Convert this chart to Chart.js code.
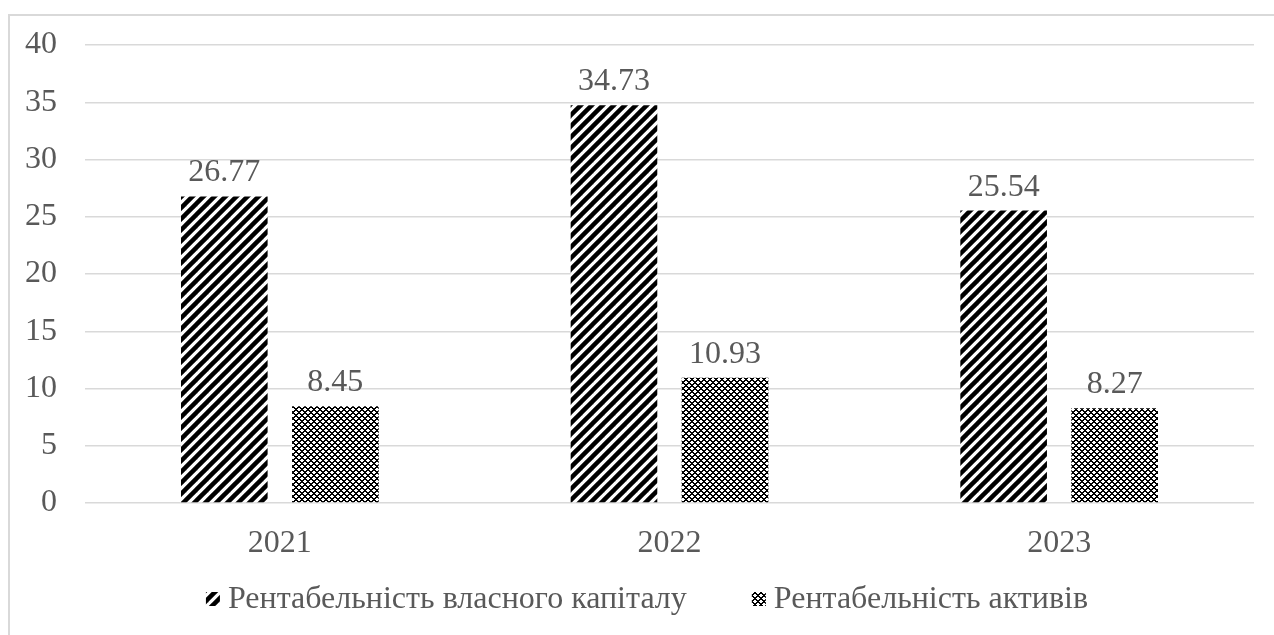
<!DOCTYPE html>
<html>
<head>
<meta charset="utf-8">
<script src="https://cdn.jsdelivr.net/npm/chart.js@4"></script>
<style>
  html, body { margin: 0; padding: 0; overflow: hidden; background: #fff; }
  #frame {
    position: absolute; left: 8px; top: 14px;
    width: 1274px; height: 635px;
    border-left: 2px solid #d9d9d9; border-top: 2px solid #d9d9d9;
  }
  #chart1 { display: block; }
</style>
</head>
<body>
<div id="frame"><canvas id="chart1" width="1274" height="635"></canvas></div>
<script>
const years = ['2021', '2022', '2023'];
const equityReturn = [26.77, 34.73, 25.54];
const assetReturn = [8.45, 10.93, 8.27];
const seriesNames = ['Рентабельність власного капіталу', 'Рентабельність активів'];
const yMin = 0, yMax = 40, yStep = 5;

const fontFamily = "'Liberation Serif', 'Times New Roman', serif";
const textColor = '#595959';

// hatch fills like the excel chart
function stripes() {
  const c = document.createElement('canvas');
  c.width = 11; c.height = 11;
  const g = c.getContext('2d');
  g.fillStyle = '#fff';
  g.fillRect(0, 0, 11, 11);
  g.strokeStyle = '#000';
  g.lineWidth = 4.5;
  for (const o of [-11, 0, 11]) {
    g.beginPath();
    g.moveTo(o - 2, 13);
    g.lineTo(o + 13, -2);
    g.stroke();
  }
  return g.createPattern(c, 'repeat');
}

function checks() {
  const c = document.createElement('canvas');
  c.width = 6; c.height = 6;
  const g = c.getContext('2d');
  g.fillStyle = '#fff';
  g.fillRect(0, 0, 6, 6);
  g.fillStyle = '#000';
  for (let x = 0; x < 6; x++) {
    for (let y = 0; y < 6; y++) {
      if ((x + y) % 6 < 2 || (x - y + 6) % 6 < 2) g.fillRect(x, y, 1, 1);
    }
  }
  return g.createPattern(c, 'repeat');
}

const ctx0 = document.getElementById('chart1').getContext('2d');
const fillA = stripes();
const fillB = checks();

const valueLabels = {
  id: 'valueLabels',
  afterDatasetsDraw(chart) {
    const ctx = chart.ctx;
    ctx.save();
    ctx.font = '32px ' + fontFamily;
    ctx.fillStyle = textColor;
    ctx.textAlign = 'center';
    ctx.textBaseline = 'alphabetic';
    chart.data.datasets.forEach((ds, i) => {
      chart.getDatasetMeta(i).data.forEach((bar, j) => {
        ctx.fillText(ds.data[j].toFixed(2), bar.x, bar.y - 15);
      });
    });
    ctx.restore();
  }
};

const bottomLegend = {
  id: 'bottomLegend',
  afterDraw(chart) {
    const ctx = chart.ctx;
    ctx.save();
    ctx.font = '32px ' + fontFamily;
    const box = 14, gapText = 8, gapItem = 65;
    const items = chart.data.datasets.map(ds => ({
      text: ds.label, fill: ds.backgroundColor, w: ctx.measureText(ds.label).width
    }));
    let total = 0;
    items.forEach((it, i) => { total += box + gapText + it.w + (i ? gapItem : 0); });
    let x = (chart.width - total) / 2;
    const y = chart.chartArea.bottom + 96;
    items.forEach(it => {
      ctx.fillStyle = it.fill;
      ctx.fillRect(x, y - box / 2, box, box);
      ctx.fillStyle = textColor;
      ctx.textAlign = 'left';
      ctx.textBaseline = 'middle';
      ctx.fillText(it.text, x + box + gapText, y + 1);
      x += box + gapText + it.w + gapItem;
    });
    ctx.restore();
  }
};

new Chart(ctx0, {
  type: 'bar',
  data: {
    labels: years,
    datasets: [{
      label: seriesNames[0],
      data: equityReturn,
      backgroundColor: fillA,
      borderWidth: 0,
      categoryPercentage: 0.57,
      barPercentage: 0.78
    }, {
      label: seriesNames[1],
      data: assetReturn,
      backgroundColor: fillB,
      borderWidth: 0,
      categoryPercentage: 0.57,
      barPercentage: 0.78
    }]
  },
  options: {
    responsive: false,
    animation: false,
    layout: { padding: { left: 15, right: 30, top: 29, bottom: 88 } },
    plugins: {
      legend: { display: false },
      tooltip: { enabled: false }
    },
    scales: {
      x: {
        grid: { display: false },
        border: { display: false },
        ticks: { color: textColor, font: { family: fontFamily, size: 32 }, padding: 13 },
        afterFit(scale) { scale.height = 60; }
      },
      y: {
        min: yMin,
        max: yMax,
        grid: { color: '#d9d9d9', lineWidth: 1.5, drawTicks: false },
        border: { display: false },
        ticks: { stepSize: yStep, color: textColor, font: { family: fontFamily, size: 32 }, padding: 28 },
        afterFit(scale) {
          scale.width = 60;
          scale.paddingTop = 0;
          scale.paddingBottom = 0;
        }
      }
    }
  },
  plugins: [valueLabels, bottomLegend]
});
</script>
</body>
</html>
